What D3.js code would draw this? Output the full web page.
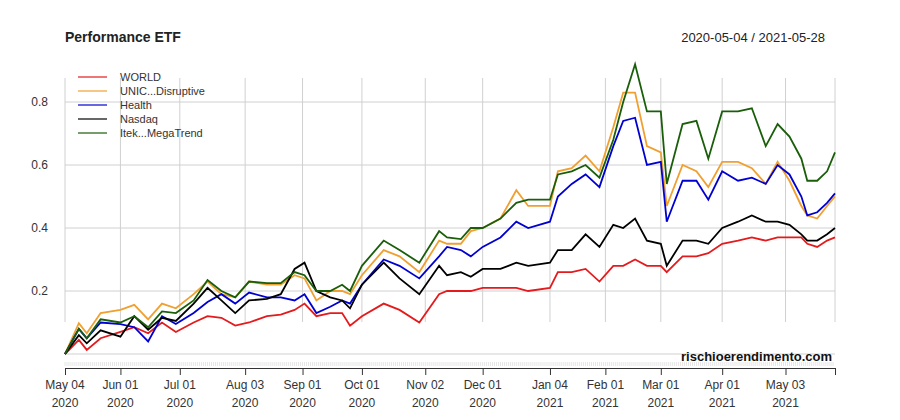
<!DOCTYPE html>
<html><head><meta charset="utf-8">
<script src="https://cdn.jsdelivr.net/npm/d3@7"></script>
<style>body{margin:0;background:#fff}text{font-family:"Liberation Sans",Arial,sans-serif}</style>
</head><body><svg id="c" width="900" height="420"></svg>
<script>
const dates = ["2020-05-04","2020-05-11","2020-05-15","2020-05-22","2020-06-01","2020-06-08","2020-06-15","2020-06-22","2020-06-29","2020-07-08","2020-07-15","2020-07-22","2020-07-29","2020-08-05","2020-08-14","2020-08-21","2020-08-28","2020-09-02","2020-09-08","2020-09-15","2020-09-21","2020-09-25","2020-10-01","2020-10-12","2020-10-20","2020-10-30","2020-11-09","2020-11-13","2020-11-20","2020-11-25","2020-12-01","2020-12-10","2020-12-18","2020-12-24","2021-01-04","2021-01-08","2021-01-15","2021-01-22","2021-01-29","2021-02-05","2021-02-10","2021-02-16","2021-02-22","2021-03-01","2021-03-04","2021-03-12","2021-03-19","2021-03-25","2021-04-01","2021-04-09","2021-04-16","2021-04-23","2021-04-29","2021-05-05","2021-05-11","2021-05-14","2021-05-19","2021-05-24","2021-05-28"];
const world = [0,0.045,0.013,0.05,0.07,0.085,0.066,0.10,0.07,0.10,0.12,0.115,0.09,0.10,0.12,0.125,0.14,0.16,0.12,0.13,0.13,0.09,0.12,0.16,0.14,0.10,0.19,0.20,0.20,0.20,0.21,0.21,0.21,0.20,0.21,0.26,0.26,0.27,0.23,0.28,0.28,0.30,0.28,0.28,0.26,0.31,0.31,0.32,0.35,0.36,0.37,0.36,0.37,0.37,0.37,0.35,0.34,0.36,0.37];
const unic = [0,0.098,0.066,0.13,0.14,0.156,0.11,0.16,0.145,0.19,0.23,0.19,0.18,0.23,0.22,0.22,0.25,0.24,0.17,0.20,0.20,0.19,0.25,0.33,0.31,0.26,0.36,0.35,0.35,0.39,0.40,0.43,0.52,0.47,0.47,0.58,0.59,0.63,0.58,0.72,0.83,0.83,0.66,0.64,0.47,0.60,0.58,0.53,0.61,0.61,0.59,0.54,0.61,0.55,0.47,0.44,0.43,0.47,0.50];
const health = [0,0.08,0.05,0.10,0.095,0.085,0.04,0.12,0.095,0.13,0.165,0.19,0.16,0.195,0.18,0.18,0.17,0.19,0.13,0.15,0.17,0.16,0.22,0.30,0.28,0.24,0.31,0.34,0.33,0.31,0.34,0.37,0.42,0.40,0.42,0.50,0.54,0.57,0.53,0.66,0.74,0.75,0.60,0.61,0.42,0.55,0.55,0.49,0.58,0.55,0.56,0.54,0.60,0.57,0.50,0.44,0.45,0.48,0.51];
const nasdaq = [0,0.06,0.034,0.075,0.055,0.12,0.077,0.115,0.105,0.16,0.21,0.17,0.13,0.17,0.175,0.19,0.27,0.29,0.20,0.18,0.17,0.145,0.22,0.29,0.24,0.19,0.28,0.25,0.26,0.245,0.27,0.27,0.29,0.28,0.29,0.33,0.33,0.38,0.34,0.41,0.40,0.43,0.36,0.35,0.28,0.36,0.36,0.35,0.40,0.42,0.44,0.42,0.42,0.41,0.38,0.36,0.36,0.38,0.40];
const itek = [0,0.08,0.05,0.11,0.10,0.12,0.085,0.135,0.13,0.17,0.235,0.20,0.18,0.23,0.225,0.225,0.26,0.25,0.20,0.20,0.22,0.20,0.28,0.36,0.33,0.29,0.39,0.37,0.365,0.40,0.40,0.43,0.48,0.49,0.49,0.57,0.58,0.60,0.56,0.68,0.80,0.92,0.77,0.77,0.54,0.73,0.74,0.62,0.77,0.77,0.78,0.66,0.73,0.69,0.62,0.55,0.55,0.58,0.64];
const series = [
  {name:"WORLD", color:"#e41a1c", v:world},
  {name:"UNIC...Disruptive", color:"#f0a030", v:unic},
  {name:"Health", color:"#0000d0", v:health},
  {name:"Nasdaq", color:"#000000", v:nasdaq},
  {name:"Itek...MegaTrend", color:"#1a5e0a", v:itek}
];
const xTicks = ["2020-05-04","2020-06-01","2020-07-01","2020-08-03","2020-09-01","2020-10-01","2020-11-02","2020-12-01","2021-01-04","2021-02-01","2021-03-01","2021-04-01","2021-05-03","2021-05-28"];
const yTicks = [0.2,0.4,0.6,0.8];

const parse = d3.timeParse("%Y-%m-%d");
const svg = d3.select("#c");
const x = d3.scaleTime().domain([parse(dates[0]), parse(dates[dates.length-1])]).range([65,835]);
const y = d3.scaleLinear().domain([0,0.8]).range([354,102]);

// grid
svg.append("g").selectAll("line").data([0,...yTicks]).join("line")
  .attr("x1",65).attr("x2",835).attr("y1",d=>y(d)).attr("y2",d=>y(d))
  .attr("stroke","#d0d0d0").attr("stroke-width",1);
svg.append("g").selectAll("line").data(xTicks).join("line")
  .attr("x1",d=>x(parse(d))).attr("x2",d=>x(parse(d))).attr("y1",78).attr("y2",322)
  .attr("stroke","#d0d0d0").attr("stroke-width",1);
svg.append("g").selectAll("text").data(yTicks).join("text")
  .attr("x",48).attr("y",d=>y(d)+4).attr("text-anchor","end").attr("font-size",12).attr("fill","#333").text(d=>d);

// minor ticks band
svg.append("g").selectAll("line").data(d3.timeDays(parse(dates[0]), parse(dates[dates.length-1]))).join("line")
  .attr("x1",d=>x(d)).attr("x2",d=>x(d)).attr("y1",362).attr("y2",366).attr("stroke","#e6e6e6");

// x axis
const gx = svg.append("g").attr("transform","translate(0,368)")
  .call(d3.axisBottom(x).tickValues(xTicks.map(parse)).tickSize(7).tickFormat(""));
gx.select(".domain").attr("stroke","#333");
gx.selectAll(".tick line").attr("stroke","#333");
const lab = svg.append("g").selectAll("text").data(xTicks.slice(0,-1)).join("text")
  .attr("x",d=>x(parse(d))).attr("text-anchor","middle").attr("font-size",12).attr("fill","#333");
lab.append("tspan").attr("y",389).attr("x",d=>x(parse(d))).text(d=>d3.timeFormat("%b %d")(parse(d)));
lab.append("tspan").attr("y",407).attr("x",d=>x(parse(d))).text(d=>d.slice(0,4));

// lines
const line = d3.line().x((d,i)=>x(parse(dates[i]))).y(d=>y(d));
svg.append("g").selectAll("path").data(series).join("path")
  .attr("fill","none").attr("stroke",s=>s.color).attr("stroke-width",1.8).attr("d",s=>line(s.v));

// legend
const lg = svg.append("g").selectAll("g").data(series).join("g")
  .attr("transform",(s,i)=>`translate(78,${77+i*14})`);
lg.append("line").attr("x1",0).attr("x2",29).attr("stroke",s=>s.color).attr("stroke-width",1.2);
lg.append("text").attr("x",42).attr("y",4).attr("font-size",11).attr("fill","#333").text(s=>s.name);

svg.append("text").attr("x",65).attr("y",42).attr("font-size",14).attr("font-weight","bold").attr("fill","#222").text("Performance ETF");
svg.append("text").attr("x",825).attr("y",42).attr("text-anchor","end").attr("font-size",13).attr("fill","#222").text("2020-05-04 / 2021-05-28");
svg.append("text").attr("x",832).attr("y",361).attr("text-anchor","end").attr("font-size",13).attr("font-weight","bold").attr("fill","#111").text("rischioerendimento.com");
</script></body></html>
